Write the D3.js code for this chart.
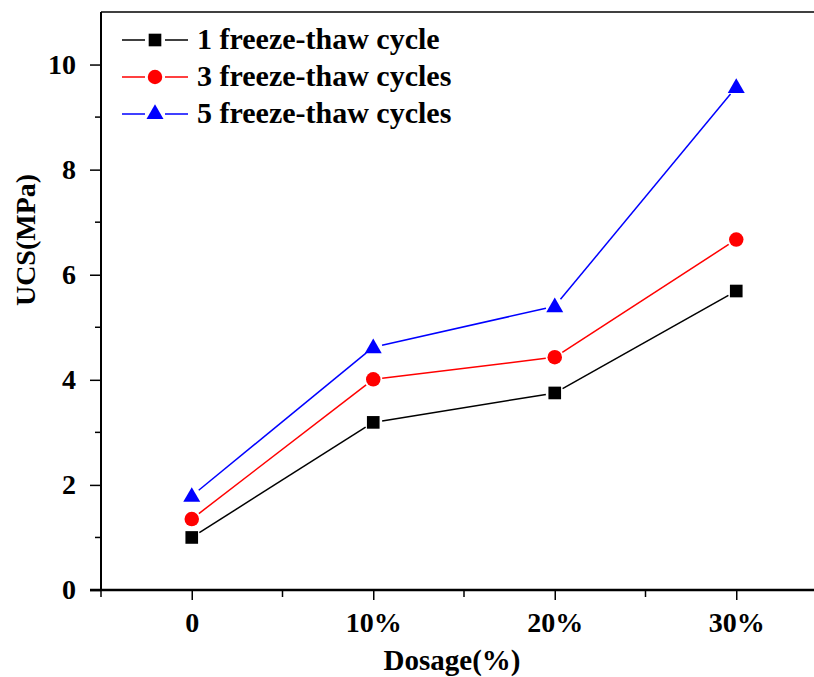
<!DOCTYPE html>
<html>
<head>
<script src="https://cdnjs.cloudflare.com/ajax/libs/d3/7.8.5/d3.min.js"></script>
<style>
  body { margin: 0; background: #fff; }
  text { font-family: "Liberation Serif", "Times New Roman", serif; font-weight: bold; }
</style>
</head>
<body>
<svg id="chart" width="814" height="677"></svg>
<script>
const categories = ['0', '10%', '20%', '30%'];
const cycle1 = [1.0, 3.19, 3.75, 5.69];
const cycle3 = [1.35, 4.01, 4.43, 6.67];
const cycle5 = [1.79, 4.62, 5.40, 9.57];
const yTicks = [0, 2, 4, 6, 8, 10];
const yMinor = [1, 3, 5, 7, 9];

const series = [
  { name: '1 freeze-thaw cycle', values: cycle1, color: '#000000', shape: d3.symbolSquare, size: 160 },
  { name: '3 freeze-thaw cycles', values: cycle3, color: '#ff0000', shape: d3.symbolCircle, size: 165 },
  { name: '5 freeze-thaw cycles', values: cycle5, color: '#0000ff', shape: d3.symbolTriangle, size: 125 }
];

const pLeft = 101, pRight = 827, pTop = 12, pBottom = 590;
const svg = d3.select('#chart');

const x = d3.scaleLinear().domain([-0.5, 3.5]).range([pLeft, pRight]);
const y = d3.scaleLinear().domain([0, 11]).range([pBottom, pTop]);

// top frame
svg.append('line')
  .attr('x1', pLeft).attr('x2', pRight).attr('y1', pTop).attr('y2', pTop)
  .attr('stroke', '#000').attr('stroke-width', 1.5);

// y axis
const yAxis = svg.append('g').attr('transform', `translate(${pLeft},0)`)
  .call(d3.axisLeft(y).tickValues(yTicks).tickSize(11).tickPadding(14).tickFormat(d3.format('d')));
yAxis.append('g').selectAll('line').data(yMinor).enter().append('line')
  .attr('x1', 0).attr('x2', -6).attr('y1', d => y(d)).attr('y2', d => y(d))
  .attr('stroke', '#000').attr('stroke-width', 1.5);

// x axis
const xAxis = svg.append('g').attr('transform', `translate(0,${pBottom})`)
  .call(d3.axisBottom(x).tickValues([0, 1, 2, 3]).tickSize(10).tickPadding(12).tickFormat(i => categories[i]));
xAxis.append('g').selectAll('line').data([-0.5, 0.5, 1.5, 2.5]).enter().append('line')
  .attr('x1', d => x(d)).attr('x2', d => x(d)).attr('y1', 0).attr('y2', 7)
  .attr('stroke', '#000').attr('stroke-width', 1.5);

[yAxis, xAxis].forEach(a => {
  a.selectAll('.tick line').attr('stroke-width', 1.5);
  a.selectAll('.tick text').attr('font-size', 28).attr('fill', '#000')
    .style('font-family', '"Liberation Serif", serif').style('font-weight', 'bold');
});
yAxis.select('.domain').attr('d', `M0,${pBottom}V${pTop}`).attr('stroke-width', 2);
xAxis.select('.domain').attr('d', `M${pLeft - 11},0H${pRight}`).attr('stroke-width', 2.5);

// axis titles
svg.append('text').attr('x', 452).attr('y', 670).attr('text-anchor', 'middle')
  .attr('font-size', 29).text('Dosage(%)');
svg.append('text').attr('transform', `translate(35,240) rotate(-90)`)
  .attr('text-anchor', 'middle').attr('font-size', 28).text('UCS(MPa)');

// lines with small gaps at the markers, then markers
const gap = 9;
series.forEach(s => {
  const pts = s.values.map((v, i) => [x(i), y(v)]);
  const segs = d3.pairs(pts).map(([a, b]) => {
    const dx = b[0] - a[0], dy = b[1] - a[1], len = Math.hypot(dx, dy);
    const ux = dx / len, uy = dy / len;
    return [[a[0] + ux * gap, a[1] + uy * gap], [b[0] - ux * gap, b[1] - uy * gap]];
  });
  svg.append('g').selectAll('line').data(segs).enter().append('line')
    .attr('x1', d => d[0][0]).attr('y1', d => d[0][1])
    .attr('x2', d => d[1][0]).attr('y2', d => d[1][1])
    .attr('stroke', s.color).attr('stroke-width', 1.5);
  svg.append('g').selectAll('path').data(s.values).enter().append('path')
    .attr('d', d3.symbol().type(s.shape).size(s.size))
    .attr('transform', (d, i) => `translate(${x(i)},${y(d) + (s.shape === d3.symbolTriangle ? 1 : 0)})`)
    .attr('fill', s.color);
});

// legend
const legend = svg.append('g');
series.forEach((s, k) => {
  const ly = 40 + k * 37;
  legend.append('line').attr('x1', 122).attr('x2', 145).attr('y1', ly).attr('y2', ly)
    .attr('stroke', s.color).attr('stroke-width', 1.5);
  legend.append('line').attr('x1', 165).attr('x2', 188).attr('y1', ly).attr('y2', ly)
    .attr('stroke', s.color).attr('stroke-width', 1.5);
  legend.append('path')
    .attr('d', d3.symbol().type(s.shape).size(s.size))
    .attr('transform', `translate(155,${ly})`).attr('fill', s.color);
  legend.append('text').attr('x', 197).attr('y', ly + 9).attr('font-size', 30).text(s.name);
});
</script>
</body>
</html>
